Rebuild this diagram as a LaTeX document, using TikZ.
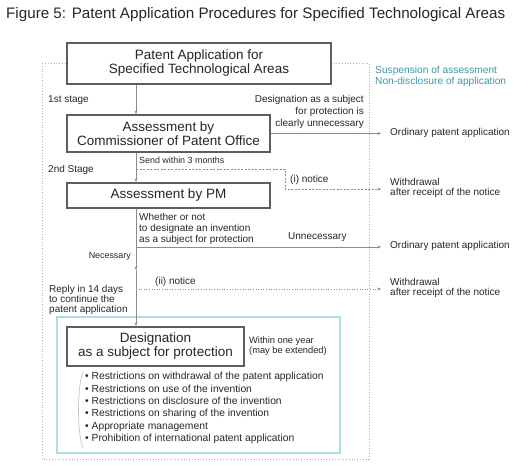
\documentclass[tikz,border=0pt]{standalone}
\usepackage{fontspec}
\setmainfont{Liberation Sans}
\usetikzlibrary{arrows.meta}
\definecolor{boxgray}{HTML}{5E5E5E}
\definecolor{linegray}{HTML}{8C8C8C}
\definecolor{dotteal}{HTML}{8DBCC4}
\definecolor{lightteal}{HTML}{AEDCE0}
\definecolor{textteal}{HTML}{3F97A3}
\definecolor{txt}{HTML}{262626}

\begin{document}
\begin{tikzpicture}[x=1pt,y=-1pt,
  stagebox/.style={draw=boxgray, line width=2.2pt, fill=white, align=center,
    inner sep=0pt, font=\fontsize{13.5}{14}\selectfont, text=txt},
  lbl/.style={inner sep=0pt, text=txt, font=\fontsize{10}{10.5}\selectfont, align=left},
  small/.style={inner sep=0pt, text=txt, font=\fontsize{8.9}{9}\selectfont},
  flow/.style={draw=linegray, line width=0.6pt, -{Stealth[length=3.5pt,width=3pt]}}]
\useasboundingbox (0,0) rectangle (531,464);
%\draw [help lines] (0,0) grid (531,464);
\node [anchor=west, inner sep=0pt, text=txt, font=\fontsize{15.2}{16}\selectfont] (title) at (6,15)
  {Figure 5: Patent Application Procedures for Specified Technological Areas};
% outer dotted frame and inner frame
\draw [dotteal, line width=0.8pt, dotted] (42,63) rectangle (369,459);
\draw [lightteal, line width=1.6pt] (57,317) rectangle (340,453);
\node [anchor=north west, inner sep=0pt, text=textteal, align=left,
  font=\fontsize{10.2}{10.8}\selectfont] (susp) at (375,66)
  {Suspension of assessment\\Non-disclosure of application};
% boxes
\node [stagebox, minimum width=264pt, minimum height=41pt] (appl) at (199,63.5)
  {Patent Application for\\Specified Technological Areas};
\node [stagebox, minimum width=203pt, minimum height=37pt] (jpo) at (168.5,133.5)
  {Assessment by\\Commissioner of Patent Office};
\node [stagebox, minimum width=203pt, minimum height=25pt] (pm) at (168.5,195.5)
  {Assessment by PM};
\node [stagebox, minimum width=177pt, minimum height=39pt] (desig) at (155.5,346.5)
  {Designation\\as a subject for protection};
% free ends
\coordinate (spine) at (136,0);
\coordinate (ord1) at (381,133.5);
\coordinate (wd1) at (381,189);
\coordinate (ord2) at (381,247);
\coordinate (wd2) at (381,289);
\coordinate (nec) at (136,270);
% main line
\draw [flow] (appl.south -| spine) -- (jpo.north -| spine);
\draw [flow] (jpo.south -| spine) -- (pm.north -| spine);
\draw [flow] (pm.south -| spine) -- (nec);
\draw [flow] (nec) -- (desig.north -| spine);
% side branches
\draw [flow] (jpo.east |- ord1) -- (ord1);
\draw [flow, dashed, dash pattern=on 2pt off 1.5pt] (136,169) -- (285,169) -- (285,189) -- (wd1);
\draw [flow] (136,247) -- (ord2);
\draw [flow, dotted] (136,289) -- (wd2);
% labels
\node [lbl, anchor=west] (st1) at (48,100) {1st stage};
\node [lbl, anchor=south east, align=right, font=\fontsize{10}{12}\selectfont] (clear) at (364,128.5)
  {Designation as a subject\\for protection is\\clearly unnecessary};
\node [lbl, anchor=west] (ordtxt1) at (390,133) {Ordinary patent application};
\node [small, anchor=west] (send) at (139,160) {Send within 3 months};
\node [lbl, anchor=west] (st2) at (48,170) {2nd Stage};
\node [lbl, anchor=west] (note1) at (290,180) {(i) notice};
\node [lbl, anchor=west] (wdtxt1) at (390,188) {Withdrawal\\after receipt of the notice};
\node [lbl, anchor=north west, font=\fontsize{10}{11}\selectfont] (whether) at (139,213)
  {Whether or not\\to designate an invention\\as a subject for protection};
\node [lbl, anchor=west] (unnec) at (288,237) {Unnecessary};
\node [lbl, anchor=west] (ordtxt2) at (390,246) {Ordinary patent application};
\node [small, anchor=east] (necs) at (131,256) {Necessary};
\node [lbl, anchor=west] (note2) at (155,282) {(ii) notice};
\node [lbl, anchor=west] (wdtxt2) at (390,288) {Withdrawal\\after receipt of the notice};
\node [lbl, anchor=north west, font=\fontsize{10}{10.2}\selectfont] (reply) at (49,285)
  {Reply in 14 days\\to continue the\\patent application};
\node [small, anchor=west, font=\fontsize{9.3}{10}\selectfont, align=left] (year) at (249,346)
  {Within one year\\(may be extended)};
% restrictions
\draw [black!25, line width=0.6pt] (83,372) .. controls (77,386) and (77,434) .. (83,448);
\node [lbl, anchor=north west, font=\fontsize{10.3}{12.4}\selectfont] (restr) at (85,372)
  {\textbullet\ Restrictions on withdrawal of the patent application\\
   \textbullet\ Restrictions on use of the invention\\
   \textbullet\ Restrictions on disclosure of the invention\\
   \textbullet\ Restrictions on sharing of the invention\\
   \textbullet\ Appropriate management\\
   \textbullet\ Prohibition of international patent application};
\end{tikzpicture}
\end{document}
